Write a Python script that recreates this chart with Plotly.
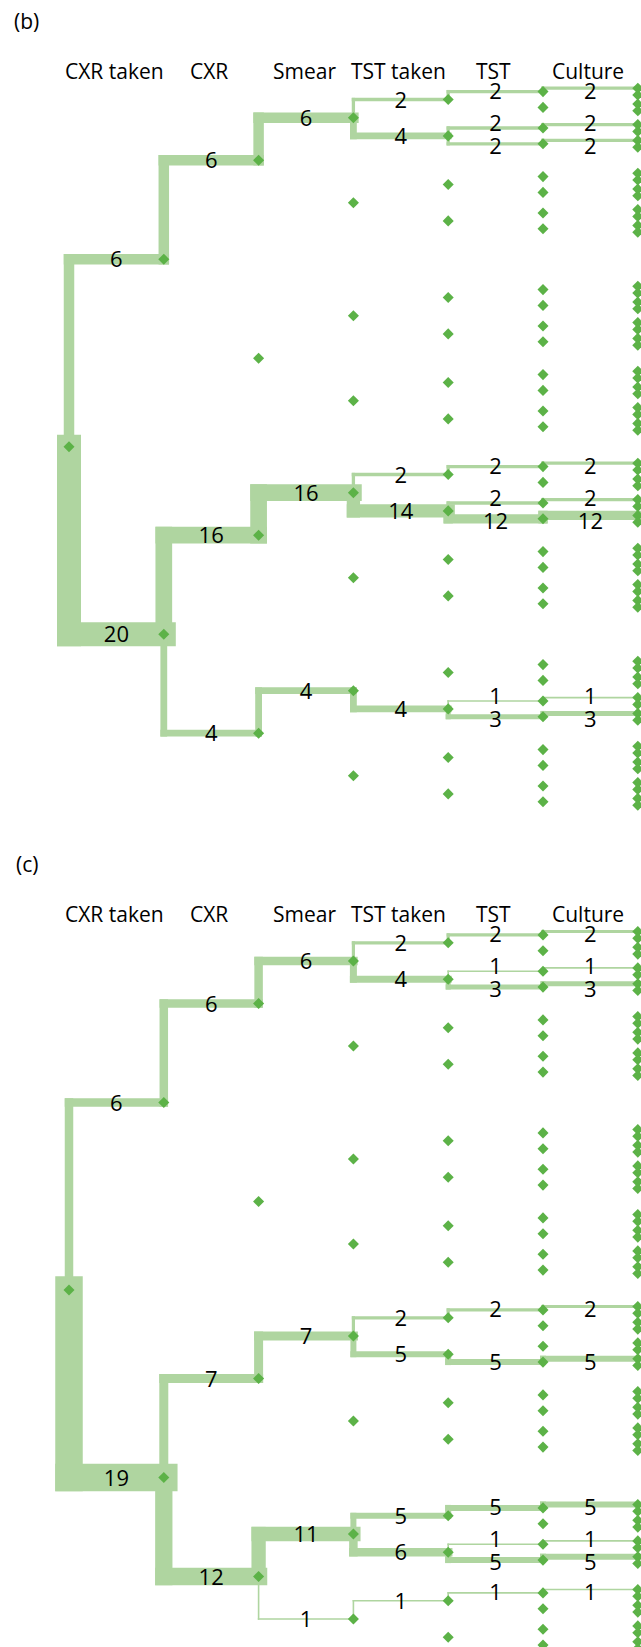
import numpy as np
import plotly.graph_objects as go

# column headers (one per decision step) and panel tags
STEPS = ["CXR taken", "CXR", "Smear", "TST taken", "TST", "Culture"]
PANEL_TAGS = ["(b)", "(c)"]

# patients entering each node, level by level; node i splits into 2i (upper) and 2i+1 (lower)
B_L1 = [6, 20]
B_L2 = [6, 0, 16, 4]
B_L3 = [6, 0, 0, 0, 16, 0, 4, 0]
B_L4 = [2, 4, 0, 0, 0, 0, 0, 0, 2, 14, 0, 0, 0, 4, 0, 0]
B_L5 = [2, 0, 2, 2, 0, 0, 0, 0, 0, 0, 0, 0, 0, 0, 0, 0,
        2, 0, 2, 12, 0, 0, 0, 0, 0, 0, 1, 3, 0, 0, 0, 0]
B_L6 = [2, 0, 0, 0, 2, 0, 2, 0, 0, 0, 0, 0, 0, 0, 0, 0,
        0, 0, 0, 0, 0, 0, 0, 0, 0, 0, 0, 0, 0, 0, 0, 0,
        2, 0, 0, 0, 2, 0, 12, 0, 0, 0, 0, 0, 0, 0, 0, 0,
        0, 0, 0, 0, 1, 0, 3, 0, 0, 0, 0, 0, 0, 0, 0, 0]

C_L1 = [6, 19]
C_L2 = [6, 0, 7, 12]
C_L3 = [6, 0, 0, 0, 7, 0, 11, 1]
C_L4 = [2, 4, 0, 0, 0, 0, 0, 0, 2, 5, 0, 0, 5, 6, 1, 0]
C_L5 = [2, 0, 1, 3, 0, 0, 0, 0, 0, 0, 0, 0, 0, 0, 0, 0,
        2, 0, 0, 5, 0, 0, 0, 0, 5, 0, 1, 5, 1, 0, 0, 0]
C_L6 = [2, 0, 0, 0, 1, 0, 3, 0, 0, 0, 0, 0, 0, 0, 0, 0,
        0, 0, 0, 0, 0, 0, 0, 0, 0, 0, 0, 0, 0, 0, 0, 0,
        2, 0, 0, 0, 0, 0, 5, 0, 0, 0, 0, 0, 0, 0, 0, 0,
        5, 0, 0, 0, 1, 0, 5, 0, 1, 0, 0, 0, 0, 0, 0, 0]

PANELS = [[B_L1, B_L2, B_L3, B_L4, B_L5, B_L6],
          [C_L1, C_L2, C_L3, C_L4, C_L5, C_L6]]

# ---- layout / style (pixels) ----
W, H = 641, 1647
COL_X0, COL_DX = 69, 94.8
HALF_GAP = [187.5, 99, 42.5, 18.2, 7.9, 3.4]
ROOT_Y = [446.7, 1290]
BAND = "#afd5a0"
NODE = "#5cb247"
FONT = "Open Sans"
FS = 21
# band thickness by count, per panel
WIDTH_MAPS = [([1, 2, 3, 4, 6, 12, 14, 16, 20], [1.7, 3.3, 5, 6.8, 10.5, 9.3, 13.3, 16.7, 24]),
              ([1, 2, 3, 4, 5, 6, 7, 11, 12, 19], [1.6, 3.2, 5, 7, 6, 8.5, 9, 14.3, 17.3, 27.5])]


def node_positions(root_y):
    ys = [[root_y]]
    for g in HALF_GAP:
        ys.append([y + s * g for y in ys[-1] for s in (-1, 1)])
    return ys


def label_offset(levels, k, i):
    # k is the 1-based level of the child node
    if k == 6:
        return label_offset(levels, 5, i // 2)
    if k == 5:
        if levels[4][i ^ 1] > 0:
            return -3 if i % 2 == 0 else 4.5
        return 2
    return 2.5


fig = go.Figure()
node_x, node_yy = [], []
lab_x, lab_y, lab_t = [], [], []

for p, levels in enumerate(PANELS):
    ys = node_positions(ROOT_Y[p])
    cx, cw = WIDTH_MAPS[p]
    for k, col in enumerate(ys):
        node_x += [COL_X0 + k * COL_DX] * len(col)
        node_yy += col
    for k in range(1, 7):
        xp = COL_X0 + (k - 1) * COL_DX
        xc = COL_X0 + k * COL_DX
        for i, c in enumerate(levels[k - 1]):
            if c <= 0:
                continue
            yp = ys[k - 1][i // 2]
            yc = ys[k][i]
            h = float(np.interp(c, cx, cw)) / 2
            fig.add_shape(type="rect", x0=xp - h, x1=xp + h,
                          y0=min(yp, yc) - h, y1=max(yp, yc) + h,
                          fillcolor=BAND, line_width=0, layer="below")
            fig.add_shape(type="rect", x0=xp - h, x1=xc + h,
                          y0=yc - h, y1=yc + h,
                          fillcolor=BAND, line_width=0, layer="below")
            yref = yc if k < 6 else yp
            lab_x.append((xp + xc) / 2)
            lab_y.append(yref + label_offset(levels, k, i))
            lab_t.append(str(c))

    top = ROOT_Y[p] - 376
    for j, s in enumerate(STEPS):
        fig.add_annotation(x=COL_X0 + (j + 0.5) * COL_DX - 2, y=top, text=s,
                           showarrow=False, xanchor="center", yanchor="middle",
                           font=dict(family=FONT, size=FS, color="#000"))
    fig.add_annotation(x=26.7, y=ROOT_Y[p] - 425.7, text=PANEL_TAGS[p],
                       showarrow=False, xanchor="center", yanchor="middle",
                       font=dict(family=FONT, size=FS, color="#000"))

fig.add_trace(go.Scatter(x=node_x, y=node_yy, mode="markers", hoverinfo="skip",
                         marker=dict(symbol="diamond", size=8.5, color=NODE,
                                     line_width=0)))
fig.add_trace(go.Scatter(x=lab_x, y=lab_y, text=lab_t, mode="text",
                         textposition="middle center", hoverinfo="skip",
                         textfont=dict(family=FONT, size=22, color="#000")))

fig.update_layout(width=W, height=H, margin=dict(l=0, r=0, t=0, b=0),
                  paper_bgcolor="white", plot_bgcolor="white", showlegend=False)
fig.update_xaxes(range=[0, W], visible=False, fixedrange=True)
fig.update_yaxes(range=[H, 0], visible=False, fixedrange=True)

# drop the browser's default body margin so the figure sits at the page corner
fig.write_html("out.html", config={"displayModeBar": False},
               post_script="document.body.style.margin='0';")
